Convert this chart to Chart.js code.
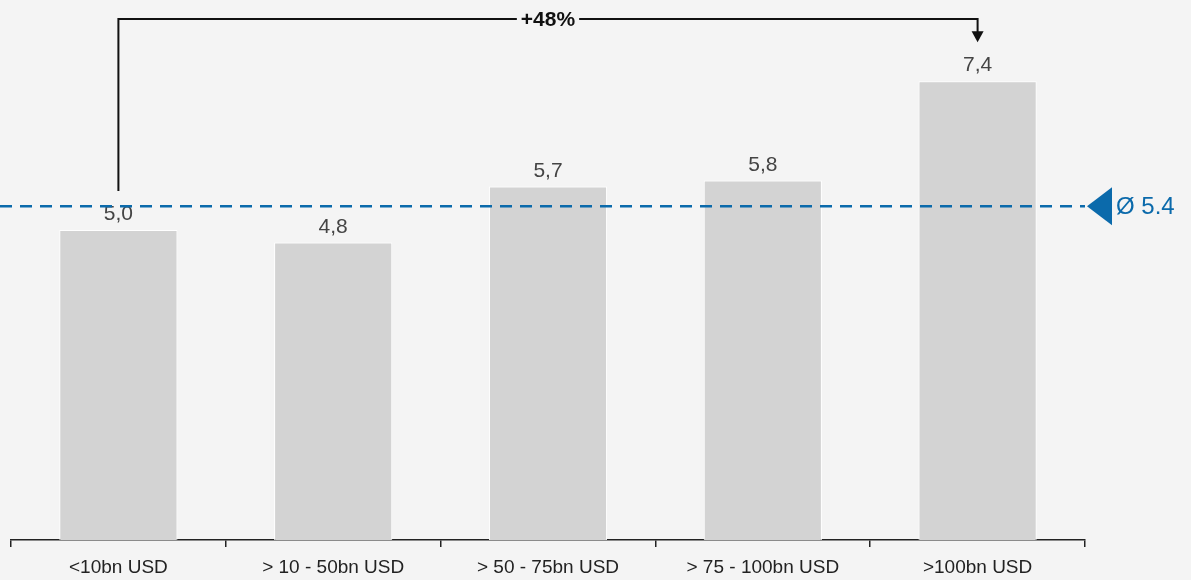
<!DOCTYPE html>
<html>
<head>
<meta charset="utf-8">
<script src="https://cdn.jsdelivr.net/npm/chart.js@4.4.0/dist/chart.umd.min.js"></script>
<style>
  html, body { margin: 0; padding: 0; background: #f4f4f4; }
  #wrap { width: 1191px; height: 580px; }
</style>
</head>
<body>
<div id="wrap"><canvas id="myChart" width="1191" height="580"></canvas></div>
<script>
const categories = ['<10bn USD', '> 10 - 50bn USD', '> 50 - 75bn USD', '> 75 - 100bn USD', '>100bn USD'];
const values = [5.0, 4.8, 5.7, 5.8, 7.4];
const average = 5.4;
const growthLabel = '+48%';

const fontName = '"Liberation Sans", Arial, sans-serif'

// value labels, avg line, bracket arrow
const extras = {
  id: 'extras',
  afterDatasetsDraw(chart) {
    const ctx = chart.ctx
    const y = chart.scales.y
    const meta = chart.getDatasetMeta(0)

    ctx.save()
    ctx.font = '21px ' + fontName
    ctx.fillStyle = '#444'
    ctx.textAlign = 'center'
    ctx.textBaseline = 'bottom'
    meta.data.forEach((bar, i) => {
      ctx.fillText(values[i].toFixed(1).replace('.', ','), bar.x, bar.y - 5)
    })

    // average line
    const ay = y.getPixelForValue(average) + 1
    ctx.strokeStyle = '#0b6aab'
    ctx.lineWidth = 2.5
    ctx.setLineDash([12, 8])
    ctx.beginPath()
    ctx.moveTo(0, ay)
    ctx.lineTo(chart.chartArea.right, ay)
    ctx.stroke()
    ctx.setLineDash([])
    const tx = chart.chartArea.right + 2
    ctx.fillStyle = '#0b6aab'
    ctx.beginPath()
    ctx.moveTo(tx, ay)
    ctx.lineTo(tx + 25, ay - 19)
    ctx.lineTo(tx + 25, ay + 19)
    ctx.closePath()
    ctx.fill()
    ctx.font = '24px ' + fontName
    ctx.textAlign = 'left'
    ctx.textBaseline = 'middle'
    ctx.fillText('Ø ' + average.toFixed(1), tx + 29, ay + 1)

    // bracket
    const x0 = meta.data[0].x
    const x1 = meta.data[values.length - 1].x
    const top = 19
    const startY = meta.data[0].y - 39
    const tipY = meta.data[values.length - 1].y - 39
    ctx.strokeStyle = '#111'
    ctx.lineWidth = 2
    ctx.font = 'bold 21px ' + fontName
    const mid = (x0 + x1) / 2
    const tw = ctx.measureText(growthLabel).width
    ctx.beginPath()
    ctx.moveTo(x0, startY)
    ctx.lineTo(x0, top)
    ctx.lineTo(mid - tw / 2 - 4, top)
    ctx.moveTo(mid + tw / 2 + 4, top)
    ctx.lineTo(x1, top)
    ctx.lineTo(x1, tipY - 10)
    ctx.stroke()
    ctx.fillStyle = '#111'
    ctx.beginPath()
    ctx.moveTo(x1 - 6, tipY - 11)
    ctx.lineTo(x1 + 6, tipY - 11)
    ctx.lineTo(x1, tipY)
    ctx.closePath()
    ctx.fill()
    ctx.textAlign = 'center'
    ctx.fillText(growthLabel, mid, top + 1)
    ctx.restore()
  }
}

new Chart('myChart', {
  type: 'bar',
  data: {
    labels: categories,
    datasets: [{
      data: values,
      backgroundColor: '#d3d3d3',
      borderColor: '#ffffff',
      borderWidth: 1,
      categoryPercentage: 0.55,
      barPercentage: 1
    }]
  },
  options: {
    responsive: false,
    animation: false,
    layout: { padding: { top: 13, left: 11, right: 106, bottom: -8 } },
    plugins: { legend: { display: false }, tooltip: { enabled: false } },
    scales: {
      y: { display: false, min: 0, max: 8.5 },
      x: {
        grid: { drawOnChartArea: false, tickLength: 7, color: '#222', lineWidth: 1.5 },
        border: { color: '#222', width: 1.5 },
        ticks: { color: '#222', font: { family: fontName, size: 19, lineHeight: 1 }, padding: 11, maxRotation: 0 }
      }
    }
  },
  plugins: [extras]
});
</script>
</body>
</html>
